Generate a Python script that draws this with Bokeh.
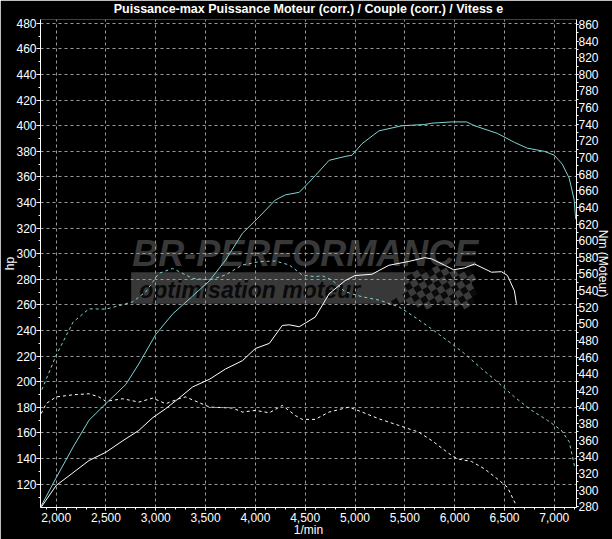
import math
from bokeh.plotting import figure
from bokeh.models import Range1d, LinearAxis, FixedTicker, NumeralTickFormatter
from bokeh.core.properties import value
from bokeh.embed import file_html
from bokeh.resources import INLINE

# ---------------- texts ----------------
TITLE = "Puissance-max Puissance Moteur (corr.) / Couple (corr.) / Vitess e"
X_LABEL = "1/min"
Y_LABEL = "hp"
Y2_LABEL = "Nm (Moteur)"
WM_BIG = "BR-PERFORMANCE"
WM_SMALL = "optimisation moteur"

# ---------------- ticks ----------------
x_ticks = [2000, 2500, 3000, 3500, 4000, 4500, 5000, 5500, 6000, 6500, 7000]
hp_ticks = [120, 140, 160, 180, 200, 220, 240, 260, 280, 300, 320, 340, 360,
            380, 400, 420, 440, 460, 480]
nm_ticks = [280, 300, 320, 340, 360, 380, 400, 420, 440, 460, 480, 500, 520,
            540, 560, 580, 600, 620, 640, 660, 680, 700, 720, 740, 760, 780,
            800, 820, 840, 860]

# ---------------- data ----------------
# Power run 1 (cyan, hp)
pw1_rpm = [1850, 2000, 2170, 2330, 2500, 2700, 2830, 3000, 3170, 3370, 3540,
           3700, 3870, 4040, 4200, 4300, 4440, 4540, 4600, 4740, 4900, 4970,
           5070, 5240, 5470, 5700, 5770, 5970, 6120, 6200, 6430, 6600, 6730,
           6900, 7000, 7080, 7150, 7200, 7215]
pw1_hp = [103, 125, 149, 170, 183, 198, 214, 237, 253, 267, 279,
          295, 316, 329, 342, 346, 348, 356, 361, 373, 376, 377,
          386, 396, 400, 401, 402, 403, 403, 400, 394, 387, 382.5,
          380, 377, 370, 359, 342, 327]

# Power run 2 (white, hp)
pw2_rpm = [1850, 2000, 2170, 2330, 2500, 2670, 2830, 2970, 3100, 3230, 3370,
           3540, 3700, 3870, 4000, 4140, 4270, 4340, 4440, 4600, 4740, 4900,
           5000, 5170, 5340, 5540, 5700, 5770, 5900, 5990, 6100, 6200, 6370,
           6470, 6530, 6600, 6620]
pw2_hp = [102, 119, 129, 138.5, 145, 154, 162, 172, 179, 187, 196,
          202, 210, 216.5, 226, 230, 244, 244.5, 243, 250.5, 268.7, 279,
          283, 284, 291, 294, 297, 296, 291, 287.5, 289, 292, 285.6,
          286, 283, 271, 261]

# Torque run 1 (cyan dashed, Nm)
tq1_rpm = [1833, 2000, 2170, 2330, 2500, 2670, 2770, 2900, 3030, 3170, 3370,
           3540, 3700, 3870, 4040, 4200, 4340, 4470, 4600, 4670, 4770, 4900,
           5070, 5240, 5440, 5570, 5740, 5970, 6100, 6270, 6430, 6600, 6770,
           6930, 7070, 7150, 7210]
tq1_nm = [414, 462, 502, 518, 517.6, 523, 526.5, 538.5, 560.6, 566.6, 554.6,
          552.6, 558.7, 570.7, 574.7, 575.5, 570.7, 558.7, 556.6, 557.8, 552.6, 538.5,
          532.5, 528.5, 520.4, 510.4, 496.3, 476, 464, 446, 430, 412, 396,
          384, 372, 358, 325]

# Torque run 2 (white dashed, Nm)
tq2_rpm = [1850, 1900, 2000, 2170, 2330, 2430, 2500, 2670, 2830, 2970, 3100,
           3230, 3300, 3540, 3770, 3870, 4000, 4140, 4270, 4400, 4470, 4600,
           4740, 4940, 5070, 5240, 5440, 5640, 5770, 5970, 6030, 6170, 6300,
           6430, 6530, 6620]
tq2_nm = [392, 404, 412, 414.6, 415.8, 412, 406.7, 409.8, 405.8, 410.6, 403.8,
          409.8, 412, 399.8, 398.6, 393.8, 395.8, 392.9, 401.8, 389.7, 385, 385,
          393.8, 399.8, 393.8, 385.7, 377.7, 369.6, 359.6, 341.5, 337.4, 334.3, 325.4,
          313.3, 303.3, 281]

# ---------------- style ----------------
FONT = "Liberation Sans"
CYAN = "#7fd3d3"
GRID = "#9a9a9a"

X0, X1 = 1843, 7223
Y0, Y1 = 101.8, 483
N0, N1 = 279, 866

p = figure(width=612, height=539, x_range=Range1d(X0, X1), y_range=Range1d(Y0, Y1),
           output_backend="svg", toolbar_location=None,
           min_border_left=39, min_border_right=35, min_border_top=19, min_border_bottom=32,
           background_fill_color="black", border_fill_color="black",
           outline_line_color=None)
p.extra_y_ranges = {"nm": Range1d(N0, N1)}

p.title.text = TITLE
p.title.align = "center"
p.title.vertical_align = "top"
p.title.text_color = "white"
p.title.text_font = FONT
p.title.text_font_style = "bold"
p.title.text_font_size = "12.5px"
p.title.standoff = 3
p.title.offset = 0

def style_axis(ax, tick_out=4, standoff=2, label_standoff=1):
    ax.axis_line_color = "white"
    ax.major_tick_line_color = "white"
    ax.minor_tick_line_color = "white"
    ax.major_tick_out = tick_out
    ax.major_tick_in = 0
    ax.minor_tick_out = 2
    ax.minor_tick_in = 0
    ax.major_label_standoff = standoff
    ax.major_label_text_color = "white"
    ax.major_label_text_font = FONT
    ax.major_label_text_font_size = "12px"
    ax.axis_label_text_color = "white"
    ax.axis_label_text_font = FONT
    ax.axis_label_text_font_size = "12px"
    ax.axis_label_text_font_style = "normal"
    ax.axis_label_standoff = label_standoff

xax = p.xaxis[0]
xax.ticker = FixedTicker(ticks=x_ticks, minor_ticks=list(range(1900, 7201, 100)))
xax.formatter = NumeralTickFormatter(format="0,0")
style_axis(xax, tick_out=3, standoff=2, label_standoff=-2)
xax.axis_label = X_LABEL

yax = p.yaxis[0]
yax.ticker = FixedTicker(ticks=hp_ticks, minor_ticks=list(range(110, 481, 10)))
style_axis(yax, tick_out=4, standoff=0, label_standoff=-4)
yax.axis_label = Y_LABEL

ax2 = LinearAxis(y_range_name="nm",
                 ticker=FixedTicker(ticks=nm_ticks, minor_ticks=list(range(280, 861, 10))))
style_axis(ax2, tick_out=2, standoff=0, label_standoff=-6)
ax2.axis_label = Y2_LABEL
p.add_layout(ax2, "right")

p.xgrid.ticker = FixedTicker(ticks=x_ticks)
p.ygrid.ticker = FixedTicker(ticks=hp_ticks)
for g in (p.xgrid[0], p.ygrid[0]):
    g.grid_line_color = GRID
    g.grid_line_dash = "3 3"
    g.grid_line_width = 1

# ---------------- position helpers (decoration only) ----------------
def rx(px):  # page pixel -> rpm
    return X0 + (px - 39) * (X1 - X0) / 538.0

def ry(py):  # page pixel -> hp
    return Y1 - (py - 19) * (Y1 - Y0) / 488.0

# ---------------- watermark (drawn below the grid) ----------------
p.quad(left=[rx(130)], right=[rx(472)], top=[ry(271.7)], bottom=[ry(303.3)],
       fill_color="#383838", line_color=None, level="image")
p.text(x=[rx(131)], y=[ry(253)], text=[WM_BIG], text_font=value("Liberation Sans"),
       text_font_style="bold italic", text_font_size="36px", text_color="#383838",
       text_align="left", text_baseline="middle", level="image")
p.text(x=[rx(138)], y=[ry(289)], text=[WM_SMALL], text_font=value("Liberation Sans"),
       text_font_style="bold italic", text_font_size="23px", text_color="#0a0a0a",
       text_align="left", text_baseline="middle", level="image")
# checkered flag: black / grey squares on a tilted lattice
a = 0.55
bx, by, gx, gy = [], [], [], []
for i in range(-20, 21):
    for j in range(-20, 21):
        cx = 432 + i * 6.5 * math.cos(a) - j * 6.5 * math.sin(a)
        cy = 287 - i * 6.5 * math.sin(a) - j * 6.5 * math.cos(a)
        if 268 <= cy <= 306 and cx >= 392 + (305 - cy) * 0.65 and cx <= 474:
            if (i + j) % 2 == 0:
                gx.append(rx(cx)); gy.append(ry(cy))
            else:
                bx.append(rx(cx)); by.append(ry(cy))
p.rect(x=bx, y=by, width=6.5, height=6.5, width_units="screen", height_units="screen",
       angle=a, fill_color="#0a0a0a", line_color=None, level="image")
p.rect(x=gx, y=gy, width=6.5, height=6.5, width_units="screen", height_units="screen",
       angle=a, fill_color="#3a3a3a", line_color=None, level="image")

# ---------------- curves ----------------
p.line(pw1_rpm, pw1_hp, line_color=CYAN, line_width=1)
p.line(pw2_rpm, pw2_hp, line_color="white", line_width=1)
p.line(tq1_rpm, tq1_nm, line_color=CYAN, line_width=1, line_dash="3 3", y_range_name="nm")
p.line(tq2_rpm, tq2_nm, line_color="white", line_width=1, line_dash="3 3", y_range_name="nm")

open("out.html", "w").write(file_html(p, INLINE))
